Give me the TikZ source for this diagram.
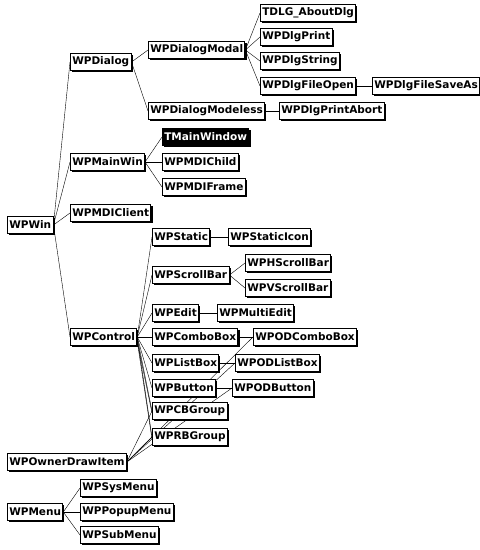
\documentclass[tikz,border=0pt]{standalone}
\usepackage{fontspec}
\setsansfont{DejaVu Sans}
\usetikzlibrary{shadows,backgrounds}
\begin{document}
\begin{tikzpicture}[x=1pt,y=-1pt,line width=0.7pt,
	cls/.style={draw,fill=white,anchor=west,font=\sffamily\bfseries\fontsize{10.5}{12}\selectfont,
		inner xsep=1.8pt,inner ysep=0pt,minimum height=17pt,line width=0.9pt,
		drop shadow={shadow xshift=1.6pt,shadow yshift=-1.6pt,fill=black,opacity=1}},
	sel/.style={cls,fill=black,text=white}]
	\useasboundingbox (0,0) rectangle (480,550);
	% roots
	\node[cls] (win) at (7,225) {WPWin};
	\node[cls] (odi) at (7,462) {WPOwnerDrawItem};
	\node[cls] (menu) at (7,512) {WPMenu};
	% dialogs
	\node[cls] (dlg) at (70,62) {WPDialog};
	\node[cls] (modal) at (148,50) {WPDialogModal};
	\node[cls] (about) at (260,13) {TDLG\_AboutDlg};
	\node[cls] (print) at (260,37) {WPDlgPrint};
	\node[cls] (string) at (260,61) {WPDlgString};
	\node[cls] (fopen) at (260,86) {WPDlgFileOpen};
	\node[cls] (fsave) at (372,86) {WPDlgFileSaveAs};
	\node[cls] (modeless) at (148,111) {WPDialogModeless};
	\node[cls] (pabort) at (279,111) {WPDlgPrintAbort};
	% windows
	\node[cls] (mwin) at (70,162) {WPMainWin};
	\node[sel] (tmain) at (162,137) {TMainWindow};
	\node[cls] (child) at (162,162) {WPMDIChild};
	\node[cls] (frame) at (162,187) {WPMDIFrame};
	\node[cls] (client) at (70,213) {WPMDIClient};
	% controls
	\node[cls] (ctl) at (70,337) {WPControl};
	\node[cls] (stat) at (152,237) {WPStatic};
	\node[cls] (icon) at (228,237) {WPStaticIcon};
	\node[cls] (sbar) at (152,275) {WPScrollBar};
	\node[cls] (hbar) at (245,263) {WPHScrollBar};
	\node[cls] (vbar) at (245,288) {WPVScrollBar};
	\node[cls] (edit) at (152,313) {WPEdit};
	\node[cls] (medit) at (217,313) {WPMultiEdit};
	\node[cls] (combo) at (152,337) {WPComboBox};
	\node[cls] (odcombo) at (253,337) {WPODComboBox};
	\node[cls] (list) at (152,363) {WPListBox};
	\node[cls] (odlist) at (235,363) {WPODListBox};
	\node[cls] (btn) at (152,388) {WPButton};
	\node[cls] (odbtn) at (232,388) {WPODButton};
	\node[cls] (cbg) at (152,411) {WPCBGroup};
	\node[cls] (rbg) at (152,437) {WPRBGroup};
	% menus
	\node[cls] (sys) at (80,488) {WPSysMenu};
	\node[cls] (popup) at (80,512) {WPPopupMenu};
	\node[cls] (sub) at (80,535) {WPSubMenu};
	\begin{scope}[on background layer]
		\foreach \c in {dlg,mwin,client,ctl} \draw (win.east) -- (\c.west);
		\foreach \c in {modal,modeless} \draw (dlg.east) -- (\c.west);
		\foreach \c in {about,print,string,fopen} \draw (modal.east) -- (\c.west);
		\draw (fopen.east) -- (fsave.west);
		\draw (modeless.east) -- (pabort.west);
		\foreach \c in {tmain,child,frame} \draw (mwin.east) -- (\c.west);
		\foreach \c in {stat,sbar,edit,combo,list,btn,cbg,rbg} \draw (ctl.east) -- (\c.west);
		\foreach \c in {cbg,rbg} \draw ([yshift=-4pt]ctl.east) -- ([yshift=-2pt]\c.west);
		\draw (stat.east) -- (icon.west);
		\foreach \c in {hbar,vbar} \draw (sbar.east) -- (\c.west);
		\draw (edit.east) -- (medit.west);
		\draw (combo.east) -- (odcombo.west);
		\draw (list.east) -- (odlist.west);
		\draw (btn.east) -- (odbtn.west);
		\foreach \c in {odcombo,odlist,odbtn,cbg,rbg} \draw (odi.east) -- (\c.west);
		\foreach \c in {sys,popup,sub} \draw (menu.east) -- (\c.west);
	\end{scope}
\end{tikzpicture}
\end{document}
